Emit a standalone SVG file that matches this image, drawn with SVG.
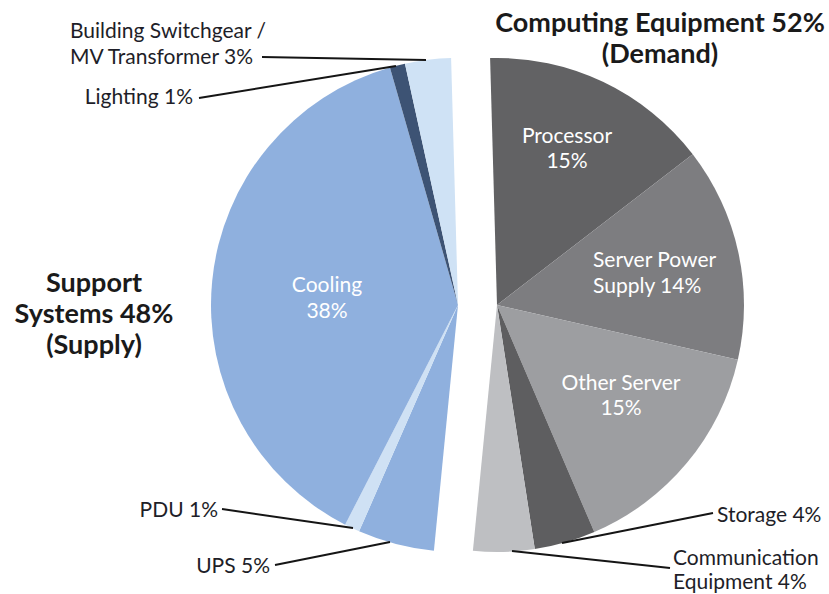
<svg xmlns="http://www.w3.org/2000/svg" width="829" height="594" viewBox="0 0 829 594">
<style>
.t{font-family:Lato,"Open Sans","Liberation Sans",sans-serif;font-size:21px;fill:#1e1e28}
.w{font-family:Lato,"Open Sans","Liberation Sans",sans-serif;font-size:21px;fill:#ffffff;text-anchor:middle}
.h{font-family:Lato,"Open Sans","Liberation Sans",sans-serif;font-size:27px;font-weight:bold;fill:#1a1a1a;text-anchor:middle}
.ln{stroke:#151515;stroke-width:2;fill:none}
</style>
<rect width="829" height="594" fill="#ffffff"/>
<g id="computing">
<g id="processor"><path d="M497,305 L490.10,58.10 A247,247 0 0 1 692.70,154.29 Z" fill="#626264"/><text class="w"><tspan x="567" y="143">Processor</tspan><tspan x="567" y="168">15%</tspan></text></g>
<g id="server-power"><path d="M497,305 L692.70,154.29 A247,247 0 0 1 737.86,359.72 Z" fill="#7d7d80"/><text class="w" style="text-anchor:start"><tspan x="593" y="267">Server Power</tspan><tspan x="593" y="293">Supply 14%</tspan></text></g>
<g id="other-server"><path d="M497,305 L737.86,359.72 A247,247 0 0 1 594.30,532.03 Z" fill="#9d9ea1"/><text class="w"><tspan x="621" y="390">Other Server</tspan><tspan x="621" y="415">15%</tspan></text></g>
<g id="storage"><path d="M497,305 L594.30,532.03 A247,247 0 0 1 534.79,549.09 Z" fill="#5e5e60"/></g>
<g id="communication"><path d="M497,305 L534.79,549.09 A247,247 0 0 1 472.90,550.82 Z" fill="#bebfc2"/></g>
</g>
<g id="support">
<g id="ups"><path d="M458,305 L433.90,550.82 A247,247 0 0 1 359.11,531.34 Z" fill="#8fb0de"/></g>
<g id="pdu"><path d="M458,305 L359.11,531.34 A247,247 0 0 1 345.11,524.69 Z" fill="#cfe1f4"/></g>
<g id="cooling"><path d="M458,305 L345.11,524.69 A247,247 0 0 1 389.92,67.57 Z" fill="#8fb0de"/><text class="w"><tspan x="327" y="292">Cooling</tspan><tspan x="327" y="318">38%</tspan></text></g>
<g id="lighting"><path d="M458,305 L389.92,67.57 A247,247 0 0 1 404.96,63.76 Z" fill="#3d5374"/></g>
<g id="switchgear"><path d="M458,305 L404.96,63.76 A247,247 0 0 1 451.10,58.10 Z" fill="#cfe2f5"/></g>
</g>
<g id="connectors">
<path class="ln" d="M262,57 L426,60"/>
<path class="ln" d="M199,98 L396,66"/>
<path class="ln" d="M222,509 L353,528"/>
<path class="ln" d="M275,565 L390,542"/>
<path class="ln" d="M562,543 L713,513"/>
<path class="ln" d="M512,551 L670,568"/>
</g>
<g id="labels">
<text class="t"><tspan x="70" y="38">Building Switchgear /</tspan><tspan x="70" y="64">MV Transformer 3%</tspan></text>
<text class="t" x="193" y="104" text-anchor="end">Lighting 1%</text>
<text class="t" x="218" y="517" text-anchor="end">PDU 1%</text>
<text class="t" x="270" y="573" text-anchor="end">UPS 5%</text>
<text class="t" x="717" y="522">Storage 4%</text>
<text class="t"><tspan x="673" y="565">Communication</tspan><tspan x="673" y="589">Equipment 4%</tspan></text>
<text class="h"><tspan x="660" y="32">Computing Equipment 52%</tspan><tspan x="660" y="63">(Demand)</tspan></text>
<text class="h"><tspan x="94" y="292">Support</tspan><tspan x="94" y="323">Systems 48%</tspan><tspan x="94" y="354">(Supply)</tspan></text>
</g>
</svg>
